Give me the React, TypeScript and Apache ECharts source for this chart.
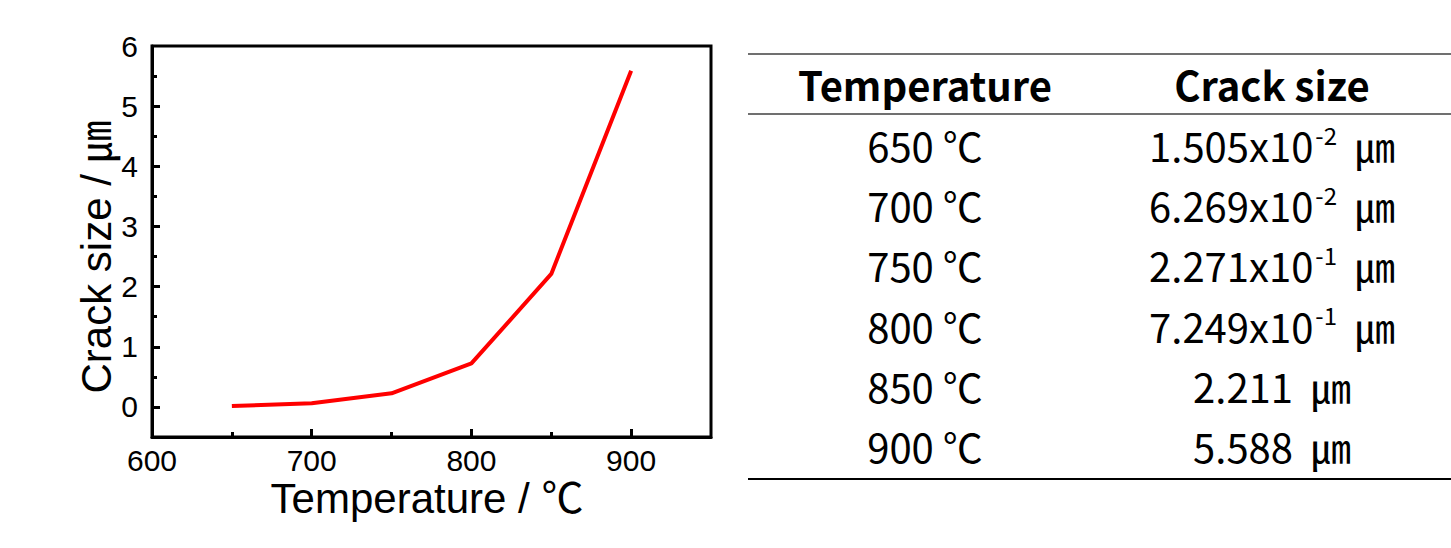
import React, { useEffect, useRef } from "react";
import * as echarts from "echarts";

const temps = [650, 700, 750, 800, 850, 900];
const crackSizes = [0.01505, 0.06269, 0.2271, 0.7249, 2.211, 5.588];
const tableTempLabels = ["650 ℃", "700 ℃", "750 ℃", "800 ℃", "850 ℃", "900 ℃"];
const tableMantissa = ["1.505x10", "6.269x10", "2.271x10", "7.249x10", "2.211", "5.588"];
const tableExponent = ["-2", "-2", "-1", "-1", "", ""];
const tableHeaders = ["Temperature", "Crack size"];
const xAxisTitle = "Temperature / ℃";
const yAxisTitle = "Crack size / ㎛";
const xTickLabels = [600, 700, 800, 900];
const xMajorTicks = [700, 800, 900];
const xMinorTicks = [650, 750, 850];
const yTickLabels = [0, 1, 2, 3, 4, 5, 6];
const yMajorTicks = [0, 1, 2, 3, 4, 5];
const yMinorTicks = [0.5, 1.5, 2.5, 3.5, 4.5, 5.5];

const AX_FONT = "'Liberation Sans', 'Noto Sans CJK KR', Arial, sans-serif";
const TB_FONT = "'Noto Sans CJK KR', 'Noto Sans', sans-serif";

export default function App() {
  const ref = useRef<HTMLDivElement>(null);
  useEffect(() => {
    document.body.style.margin = "0";
    const chart = echarts.init(ref.current!, null, { renderer: "svg" });
    const grid = { left: 152, top: 46, width: 559, height: 391 };
    const rowY0 = 145;
    const rowStep = 60.2;
    const colX = [925, 1272];
    const graphics: any[] = [
      { type: "line", shape: { x1: 748, y1: 54, x2: 1451, y2: 54 }, style: { stroke: "#707070", lineWidth: 2 } },
      { type: "line", shape: { x1: 748, y1: 114, x2: 1451, y2: 114 }, style: { stroke: "#707070", lineWidth: 2 } },
      { type: "line", shape: { x1: 748, y1: 479, x2: 1451, y2: 479 }, style: { stroke: "#000", lineWidth: 2 } },
      {
        type: "text",
        x: 96,
        y: 257,
        rotation: Math.PI / 2,
        style: { text: yAxisTitle, fontFamily: AX_FONT, fontSize: 42, fill: "#000", align: "center", verticalAlign: "middle" },
      },
      {
        type: "text",
        x: 427,
        y: 498,
        style: { text: xAxisTitle, fontFamily: AX_FONT, fontSize: 42, fill: "#000", align: "center", verticalAlign: "middle" },
      },
    ];
    tableHeaders.forEach((h, i) => {
      graphics.push({
        type: "text",
        x: colX[i],
        y: 84,
        style: { text: h, fontFamily: TB_FONT, fontWeight: "bold", fontSize: 40, fill: "#000", align: "center", verticalAlign: "middle" },
      });
    });
    temps.forEach((_, i) => {
      const y = rowY0 + i * rowStep;
      graphics.push({
        type: "text",
        x: colX[0],
        y,
        style: { text: tableTempLabels[i], fontFamily: TB_FONT, fontSize: 40, fill: "#000", align: "center", verticalAlign: "middle" },
      });
      const txt = tableExponent[i]
        ? `{n|${tableMantissa[i]}}{s|${tableExponent[i]}}{n|  ㎛}`
        : `{n|${tableMantissa[i]}  ㎛}`;
      graphics.push({
        type: "text",
        x: colX[1],
        y,
        style: {
          text: txt,
          align: "center",
          verticalAlign: "middle",
          fill: "#000",
          rich: {
            n: { fontFamily: TB_FONT, fontSize: 40, fill: "#000", lineHeight: 46 },
            s: { fontFamily: TB_FONT, fontSize: 24, fill: "#000", verticalAlign: "top", lineHeight: 46, padding: [0, 0, 16, 2] },
          },
        },
      });
    });

    chart.setOption({
      animation: false,
      backgroundColor: "#fff",
      grid: [
        { ...grid, show: true, borderColor: "#000", borderWidth: 3, backgroundColor: "transparent" },
        { ...grid, show: false },
      ],
      xAxis: [
        {
          type: "value",
          gridIndex: 0,
          min: 600,
          max: 950,
          axisLine: { show: true, onZero: false, lineStyle: { color: "#000", width: 3 } },
          axisTick: { show: true, inside: true, length: 8, lineStyle: { color: "#000", width: 3 }, customValues: xMajorTicks },
          axisLabel: { show: true, fontFamily: AX_FONT, fontSize: 30, color: "#000", margin: 8, customValues: xTickLabels },
          splitLine: { show: false },
        },
        {
          type: "value",
          gridIndex: 1,
          min: 600,
          max: 950,
          axisLine: { show: false, onZero: false },
          axisTick: { show: true, inside: true, length: 5, lineStyle: { color: "#000", width: 3 }, customValues: xMinorTicks },
          axisLabel: { show: false },
          splitLine: { show: false },
        },
      ],
      yAxis: [
        {
          type: "value",
          gridIndex: 0,
          min: -0.5,
          max: 6,
          axisLine: { show: true, onZero: false, lineStyle: { color: "#000", width: 3 } },
          axisTick: { show: true, inside: true, length: 8, lineStyle: { color: "#000", width: 3 }, customValues: yMajorTicks },
          axisLabel: { show: true, fontFamily: AX_FONT, fontSize: 30, color: "#000", margin: 14, customValues: yTickLabels },
          splitLine: { show: false },
        },
        {
          type: "value",
          gridIndex: 1,
          min: -0.5,
          max: 6,
          axisLine: { show: false, onZero: false },
          axisTick: { show: true, inside: true, length: 5, lineStyle: { color: "#000", width: 3 }, customValues: yMinorTicks },
          axisLabel: { show: false },
          splitLine: { show: false },
        },
      ],
      series: [
        {
          type: "line",
          xAxisIndex: 0,
          yAxisIndex: 0,
          data: temps.map((t, i) => [t, crackSizes[i]]),
          showSymbol: false,
          symbol: "none",
          lineStyle: { color: "#ff0000", width: 4 },
          itemStyle: { color: "#ff0000" },
        },
      ],
      graphic: graphics,
    });
    return () => chart.dispose();
  }, []);
  return <div ref={ref} style={{ width: 1451, height: 548 }} />;
}
